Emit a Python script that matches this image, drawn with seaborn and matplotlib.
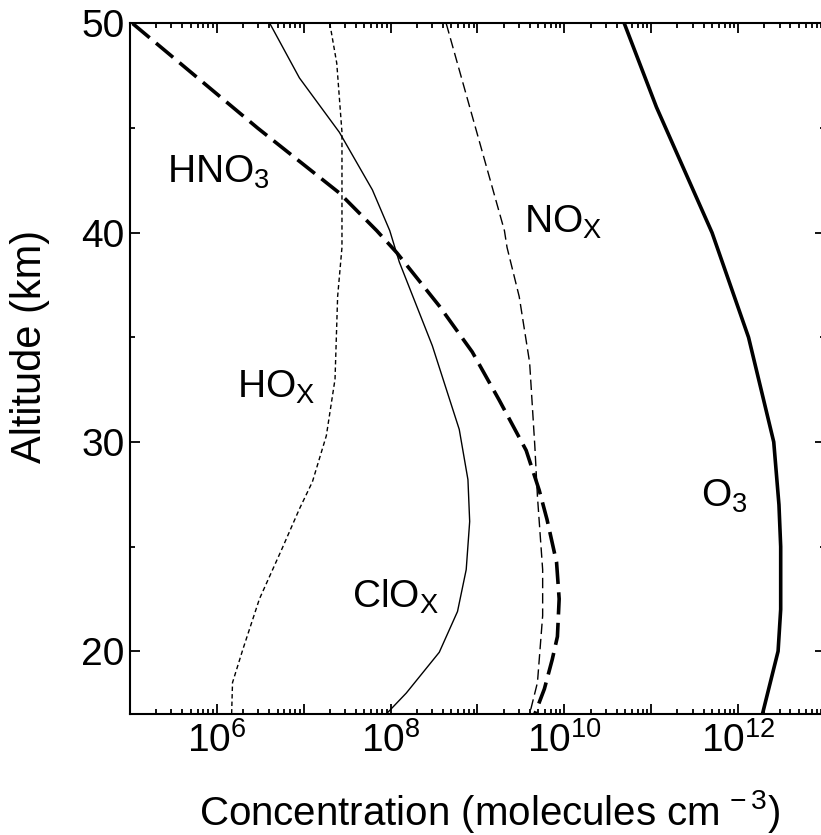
import matplotlib
matplotlib.use("Agg")
import math
import pandas as pd
import matplotlib.pyplot as plt
import matplotlib.ticker as mticker
import seaborn as sns

# ===============================
# DATA (altitude in km, log10 of concentration in molecules cm^-3)
# ===============================
o3_alt = [50, 46, 40, 35, 30, 27, 25, 22, 20, 17]
o3_log = [10.69, 11.06, 11.70, 12.12, 12.41, 12.47, 12.49, 12.49, 12.46, 12.28]

hno3_alt = [50, 45, 41.9, 40.1, 39.05, 36.5, 34.3, 32.0, 29.6, 27.7, 26.3, 24.25, 22.5, 20.7, 19.6, 18.2, 17]
hno3_log = [5.03, 6.47, 7.41, 7.84, 8.07, 8.56, 8.94, 9.25, 9.56, 9.71, 9.80, 9.91, 9.94, 9.92, 9.86, 9.77, 9.66]

clox_alt = [50, 47.4, 44.8, 42.05, 40.1, 38.6, 34.6, 30.6, 28.2, 26.2, 23.9, 21.9, 19.95, 18.0, 17]
clox_log = [6.61, 6.95, 7.41, 7.79, 7.99, 8.10, 8.48, 8.79, 8.89, 8.91, 8.87, 8.77, 8.56, 8.18, 7.95]

hox_alt = [50, 48.1, 44.8, 39.3, 36.95, 33.0, 30.3, 28.1, 26.8, 24.9, 22.5, 20.1, 18.5, 17]
hox_log = [7.30, 7.38, 7.44, 7.44, 7.39, 7.36, 7.26, 7.10, 6.95, 6.75, 6.49, 6.30, 6.18, 6.17]

nox_alt = [50, 40.1, 39.3, 36.95, 33.8, 29.8, 27.4, 23.9, 21.7, 18.5, 17]
nox_log = [8.64, 9.31, 9.34, 9.48, 9.60, 9.66, 9.69, 9.75, 9.75, 9.69, 9.60]

species = ["O3", "HNO3", "ClOx", "HOx", "NOx"]
labels = {"O3": r"O$_\mathrm{3}$", "HNO3": r"HNO$_\mathrm{3}$", "ClOx": r"ClO$_\mathrm{X}$",
          "HOx": r"HO$_\mathrm{X}$", "NOx": r"NO$_\mathrm{X}$"}
# label anchor (log10 conc, altitude) of the left baseline
label_pos = {"O3": (11.57, 26.9), "HNO3": (5.43, 42.4), "ClOx": (7.56, 22.1),
             "HOx": (6.23, 32.1), "NOx": (9.54, 40.0)}

rows = []
for name, alt, lg in [("O3", o3_alt, o3_log), ("HNO3", hno3_alt, hno3_log),
                      ("ClOx", clox_alt, clox_log), ("HOx", hox_alt, hox_log),
                      ("NOx", nox_alt, nox_log)]:
    for a, l in zip(alt, lg):
        rows.append({"species": name, "altitude": a, "conc": 10 ** l})
df = pd.DataFrame(rows)

# ===============================
# STYLE
# ===============================
sns.set_theme(style="ticks")
plt.rcParams["font.family"] = ["Liberation Sans", "DejaVu Sans"]
plt.rcParams["mathtext.fontset"] = "custom"
plt.rcParams["mathtext.rm"] = "Liberation Sans"
plt.rcParams["mathtext.it"] = "Liberation Sans:italic"
plt.rcParams["mathtext.default"] = "regular"
plt.rcParams["lines.scale_dashes"] = False
plt.rcParams["axes.linewidth"] = 1.5
plt.rcParams["text.color"] = "black"
plt.rcParams["axes.labelcolor"] = "black"

fig = plt.figure(figsize=(8.21, 8.35), dpi=100)
ax = fig.add_axes([0.15834, 0.14491, 0.84653, 0.82695])

palette = {s: "black" for s in species}
sizes = {"O3": 2.6, "HNO3": 2.6, "ClOx": 1.0, "HOx": 1.0, "NOx": 1.0}
dashes = {"O3": "", "HNO3": (16, 6), "ClOx": "", "HOx": (3.2, 2.2), "NOx": (7.5, 3.5)}

sns.lineplot(data=df, x="conc", y="altitude", hue="species", size="species",
             style="species", palette=palette, sizes=sizes, dashes=dashes,
             sort=False, estimator=None, units="species", legend=False, ax=ax)

for s in species:
    lx, ly = label_pos[s]
    ax.text(10 ** lx, ly, labels[s], fontsize=28, ha="left", va="baseline", color="black")

ax.set_xscale("log")
ax.set_xlim(1e5, 1e13)
ax.set_ylim(17, 50)

ax.xaxis.set_major_locator(mticker.LogLocator(base=10, numticks=20))
ax.xaxis.set_minor_locator(mticker.LogLocator(base=10, subs=range(2, 10), numticks=20))


def fmt(v, pos):
    e = int(round(math.log10(v)))
    return r"$10^{%d}$" % e if e % 2 == 0 else ""


ax.xaxis.set_major_formatter(mticker.FuncFormatter(fmt))
ax.xaxis.set_minor_formatter(mticker.NullFormatter())
ax.yaxis.set_major_locator(mticker.MultipleLocator(10))
ax.yaxis.set_minor_locator(mticker.MultipleLocator(5))

ax.tick_params(which="both", direction="in", top=True, right=True, width=1.3,
               labelsize=28, colors="black")
ax.tick_params(which="major", length=7.2)
ax.tick_params(which="minor", length=3.6)
ax.tick_params(axis="x", which="major", pad=6)
ax.tick_params(axis="y", which="major", pad=4)
for sp in ax.spines.values():
    sp.set_visible(True)
    sp.set_color("black")

ax.set_xlabel(r"Concentration (molecules cm$^{\,-3}$)", fontsize=29)
ax.set_ylabel("Altitude (km)", fontsize=30)
ax.xaxis.set_label_coords(0.517, -0.1608)
ax.xaxis.label.set_va("baseline")
ax.yaxis.set_label_coords(-0.1439, 0.533)
ax.yaxis.label.set_va("center")

fig.savefig("out.png", dpi=100)
